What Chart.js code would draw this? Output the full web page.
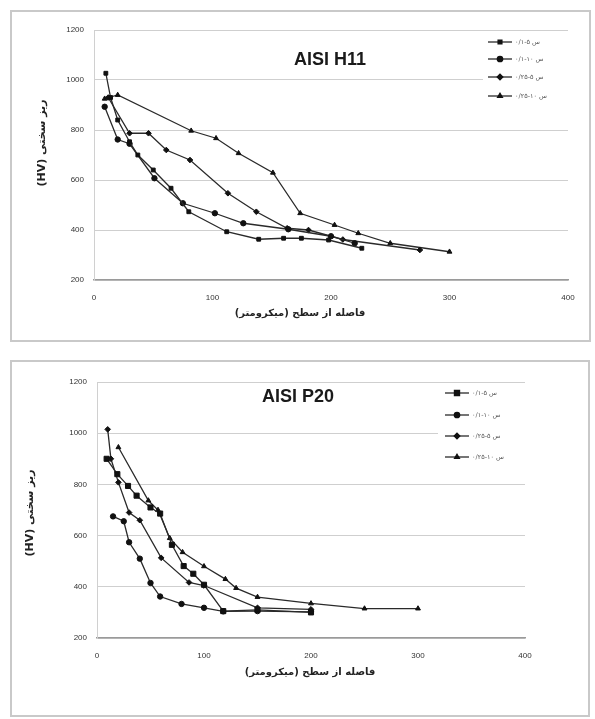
<!DOCTYPE html>
<html><head><meta charset="utf-8">
<script src="https://cdn.jsdelivr.net/npm/chart.js@4.4.1/dist/chart.umd.min.js"></script>
<style>
html,body{margin:0;padding:0;background:#fff;}
.box{position:absolute;border:2px solid #c9c9c9;}
canvas{display:block;}
</style></head><body>
<div class="box" style="left:10px;top:10px;width:577px;height:328px"><canvas id="c1" width="577" height="328"></canvas></div>
<div class="box" style="left:10px;top:360px;width:576px;height:353px"><canvas id="c2" width="576" height="353"></canvas></div>
<script>
// ---- data ----
const xTicks = [0, 100, 200, 300, 400];
const yTicks = [200, 400, 600, 800, 1000, 1200];
const titleH11 = "AISI H11";
const titleP20 = "AISI P20";
const yTitle = "ریز سختی (HV)";
const xTitle = "فاصله از سطح (میکرومتر)";
const seriesLabels = ["۰/۱-۵ س", "۰/۱-۱۰ س", "۰/۲۵-۵ س", "۰/۲۵-۱۰ س"];

// AISI H11
const h11_s1_x = [10, 14, 20, 30, 37, 50, 65, 80, 112, 139, 160, 175, 198, 226];
const h11_s1_y = [1027, 930, 840, 753, 700, 640, 567, 473, 393, 363, 367, 367, 360, 327];
const h11_s2_x = [9, 20, 30, 51, 75, 102, 126, 164, 200, 220];
const h11_s2_y = [893, 762, 745, 607, 507, 467, 427, 403, 375, 347];
const h11_s3_x = [12, 30, 46, 61, 81, 113, 137, 163, 181, 210, 275];
const h11_s3_y = [930, 787, 787, 720, 680, 547, 473, 407, 400, 362, 320];
const h11_s4_x = [9, 20, 82, 103, 122, 151, 174, 203, 223, 250, 300];
const h11_s4_y = [925, 940, 797, 767, 707, 629, 467, 420, 387, 347, 313];

// AISI P20
const p20_s1_x = [9, 19, 29, 37, 50, 59, 70, 81, 90, 100, 118, 150, 200];
const p20_s1_y = [900, 840, 794, 756, 710, 686, 564, 481, 451, 408, 305, 310, 300];
const p20_s2_x = [15, 25, 30, 40, 50, 59, 79, 100, 118, 150, 200];
const p20_s2_y = [675, 656, 574, 510, 415, 362, 333, 318, 304, 305, 302];
const p20_s3_x = [10, 13, 20, 30, 40, 60, 86, 100, 150, 200];
const p20_s3_y = [1015, 900, 808, 690, 660, 513, 417, 405, 318, 312];
const p20_s4_x = [20, 48, 57, 68, 80, 100, 120, 130, 150, 200, 250, 300];
const p20_s4_y = [945, 737, 700, 590, 535, 480, 430, 395, 360, 335, 315, 315];

// ---- helpers ----
const styles = [
  {pointStyle: 'rect', radius: 2.7},
  {pointStyle: 'circle', radius: 2.7},
  {pointStyle: 'rectRot', radius: 2.8},
  {pointStyle: 'triangle', radius: 2.8}
];
function pts(xs, ys) { return xs.map((x, i) => ({x: x, y: ys[i]})); }
function makeSets(list, bigFirst) {
  return list.map((s, i) => ({
    label: seriesLabels[i],
    data: pts(s[0], s[1]),
    showLine: true,
    borderColor: '#2a2a2a',
    borderWidth: 1.3,
    backgroundColor: '#111',
    pointBackgroundColor: '#111',
    pointBorderColor: '#111',
    pointBorderWidth: 1,
    pointStyle: styles[i].pointStyle,
    pointRadius: (bigFirst && i === 0) ? 3.6 : styles[i].radius,
    tension: 0
  }));
}

const overlay = {
  id: 'overlay',
  beforeDatasetsDraw(chart, args, o) {
    const ctx = chart.ctx;
    ctx.save();
    ctx.fillStyle = '#fff';
    ctx.fillRect(o.box[0], o.box[1], o.box[2], o.box[3]);
    ctx.restore();
  },
  afterDraw(chart, args, o) {
    const ctx = chart.ctx;
    ctx.save();
    // chart title inside plot
    ctx.fillStyle = '#1a1a1a';
    ctx.font = 'bold 18px "Liberation Sans", Arial, sans-serif';
    ctx.textAlign = 'center';
    ctx.textBaseline = 'middle';
    ctx.fillText(o.title, o.titlePos[0], o.titlePos[1]);
    // x axis title
    ctx.fillStyle = '#222';
    ctx.font = 'bold 10px "DejaVu Sans", sans-serif';
    ctx.fillText(xTitle, o.xtPos[0], o.xtPos[1]);
    // y axis title (rotated)
    ctx.save();
    ctx.translate(o.ytPos[0], o.ytPos[1]);
    ctx.rotate(-Math.PI / 2);
    ctx.direction = 'rtl';
    ctx.font = 'bold 11px "DejaVu Sans", sans-serif';
    ctx.textAlign = 'center';
    ctx.fillText(yTitle, 0, 0);
    ctx.restore();
    // legend
    chart.data.datasets.forEach((ds, i) => {
      const y = o.legY[i];
      const x0 = o.legX;
      ctx.strokeStyle = '#2a2a2a';
      ctx.lineWidth = 1.3;
      ctx.beginPath(); ctx.moveTo(x0, y); ctx.lineTo(x0 + 24, y); ctx.stroke();
      ctx.fillStyle = '#111';
      ctx.strokeStyle = '#111';
      Chart.helpers.drawPoint(ctx, {pointStyle: ds.pointStyle, radius: ds.pointRadius, rotation: 0, borderWidth: 1}, x0 + 12, y);
      ctx.fillStyle = '#555';
      ctx.font = '6.5px "DejaVu Sans", sans-serif';
      ctx.textAlign = 'left';
      ctx.textBaseline = 'middle';
      ctx.fillText(ds.label, x0 + 27, y);
    });
    ctx.restore();
  }
};

function makeChart(id, sets, L) {
  return new Chart(document.getElementById(id), {
    type: 'scatter',
    data: {datasets: sets},
    plugins: [overlay],
    options: {
      responsive: false,
      animation: false,
      layout: {padding: {left: 0, right: L.right, top: L.top, bottom: 0}},
      plugins: {
        legend: {display: false},
        tooltip: {enabled: false},
        overlay: {title: L.title, titlePos: L.titlePos, box: L.box, legX: L.legX, legY: L.legY,
                  xtPos: L.xtPos, ytPos: L.ytPos}
      },
      scales: {
        x: {
          type: 'linear', min: 0, max: 400,
          afterBuildTicks: s => { s.ticks = xTicks.map(v => ({value: v})); },
          afterFit: s => { s.height = L.bottom; },
          grid: {display: false, drawTicks: false},
          border: {display: true, color: '#9a9a9a', width: 1.6},
          ticks: {padding: 13, color: '#333', font: {size: 8, family: '"Liberation Sans", Arial'}, maxRotation: 0,
                  callback: v => String(v)}
        },
        y: {
          type: 'linear', min: 200, max: 1200,
          afterBuildTicks: s => { s.ticks = yTicks.map(v => ({value: v})); },
          afterFit: s => { s.width = L.left; },
          grid: {color: '#cfcfcf', lineWidth: 1, drawTicks: false},
          border: {display: true, color: '#d0d0d0', width: 1},
          ticks: {padding: 10, color: '#333', font: {size: 8, family: '"Liberation Sans", Arial'},
                  callback: v => String(v)}
        }
      }
    }
  });
}

makeChart('c1', makeSets([[h11_s1_x, h11_s1_y], [h11_s2_x, h11_s2_y], [h11_s3_x, h11_s3_y], [h11_s4_x, h11_s4_y]], false), {
  left: 82, right: 21, top: 18, bottom: 60,
  title: titleH11, titlePos: [318, 48], xtPos: [288, 301], ytPos: [30, 131],
  box: [471, 21, 85, 90], legX: 476, legY: [30, 47, 65, 84]
});
makeChart('c2', makeSets([[p20_s1_x, p20_s1_y], [p20_s2_x, p20_s2_y], [p20_s3_x, p20_s3_y], [p20_s4_x, p20_s4_y]], true), {
  left: 85, right: 63, top: 20, bottom: 77,
  title: titleP20, titlePos: [286, 35], xtPos: [298, 310], ytPos: [18, 151],
  box: [426, 22, 87, 86], legX: 433, legY: [31, 53, 74, 95]
});
</script>
</body></html>
